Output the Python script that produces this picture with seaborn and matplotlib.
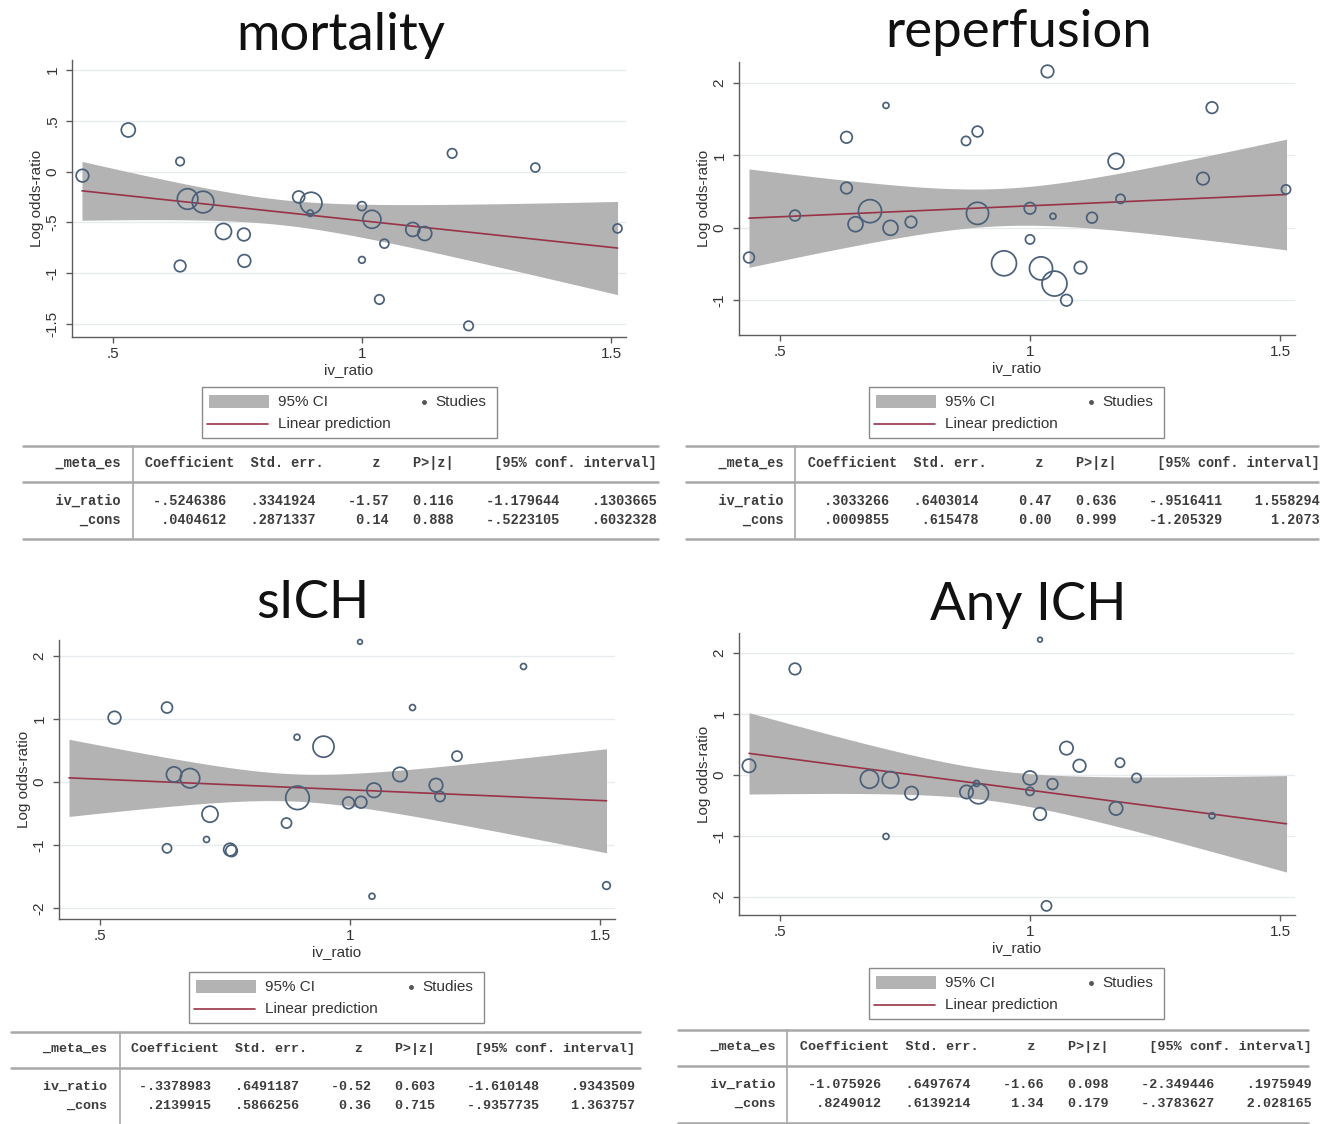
import numpy as np
import pandas as pd
import matplotlib
matplotlib.use("Agg")
import matplotlib.pyplot as plt
import seaborn as sns
from matplotlib.patches import Rectangle
from matplotlib.lines import Line2D

# ---------------------------------------------------------------- data
# study-level log odds-ratios against iv_ratio, bubble weight ~ study weight
mort_x = [0.439, 0.531, 0.635, 0.635, 0.650, 0.681, 0.722, 0.763, 0.764, 0.873, 0.898, 0.896,
          1.000, 1.000, 1.020, 1.045, 1.035, 1.102, 1.126, 1.181, 1.214, 1.348, 1.513]
mort_y = [-0.04, 0.41, 0.10, -0.93, -0.27, -0.30, -0.59, -0.62, -0.88, -0.25, -0.31, -0.41,
          -0.34, -0.87, -0.47, -0.71, -1.26, -0.57, -0.61, 0.18, -1.52, 0.04, -0.56]
mort_w = [3.6, 4.4, 1.6, 3.0, 9.5, 10.5, 5.8, 3.6, 3.6, 3.2, 10.5, 0.9,
          1.8, 1.0, 7.3, 1.8, 2.0, 4.4, 4.4, 2.0, 2.0, 1.8, 1.8]

rep_x = [0.438, 0.530, 0.633, 0.633, 0.651, 0.680, 0.712, 0.721, 0.762, 0.872, 0.895, 0.895,
         1.000, 1.000, 0.948, 1.022, 1.049, 1.046, 1.035, 1.073, 1.101, 1.124, 1.172, 1.181,
         1.346, 1.364, 1.512]
rep_y = [-0.41, 0.17, 1.25, 0.55, 0.05, 0.23, 1.69, 0.00, 0.08, 1.20, 1.33, 0.20,
         0.27, -0.16, -0.49, -0.56, -0.77, 0.16, 2.16, -1.00, -0.55, 0.14, 0.92, 0.40,
         0.68, 1.66, 0.53]
rep_w = [2.6, 2.6, 3.0, 3.0, 5.0, 12.0, 0.8, 5.0, 3.0, 1.9, 2.6, 11.0,
         3.0, 1.9, 14.0, 12.0, 14.0, 0.8, 3.5, 3.0, 3.5, 2.6, 5.6, 1.9,
         3.5, 3.0, 1.9]

sich_x = [0.529, 0.634, 0.634, 0.648, 0.680, 0.713, 0.720, 0.760, 0.763, 0.873, 0.894, 0.895,
          0.947, 0.997, 1.022, 1.020, 1.044, 1.048, 1.100, 1.125, 1.172, 1.180, 1.214, 1.347,
          1.513]
sich_y = [1.02, 1.18, -1.05, 0.12, 0.06, -0.91, -0.51, -1.07, -1.09, -0.65, 0.71, -0.25,
          0.56, -0.33, -0.32, 2.22, -1.81, -0.13, 0.12, 1.18, -0.05, -0.23, 0.41, 1.83,
          -1.64]
sich_w = [3.6, 2.7, 1.9, 5.2, 8.5, 0.8, 5.8, 3.6, 3.0, 2.3, 0.8, 12.5,
          10.0, 3.1, 3.1, 0.5, 0.8, 4.7, 4.7, 0.8, 4.1, 2.3, 2.3, 0.8,
          1.3]

any_x = [0.438, 0.530, 0.679, 0.712, 0.721, 0.763, 0.873, 0.893, 0.897, 1.000, 1.000, 1.020,
         1.020, 1.033, 1.045, 1.073, 1.099, 1.172, 1.180, 1.213, 1.364]
any_y = [0.15, 1.74, -0.07, -1.01, -0.08, -0.30, -0.28, -0.14, -0.31, -0.05, -0.27, 2.22,
         -0.64, -2.15, -0.15, 0.44, 0.15, -0.55, 0.20, -0.05, -0.67]
any_w = [4.0, 3.0, 7.5, 0.8, 6.2, 4.0, 4.0, 0.8, 9.0, 4.4, 1.5, 0.5,
         3.6, 2.3, 2.6, 4.0, 3.6, 4.0, 1.9, 1.9, 0.8]

# meta-regression output: iv_ratio row, then _cons row
mort_coef = ["-.5246386", ".0404612"]
mort_se = [".3341924", ".2871337"]
mort_z = ["-1.57", "0.14"]
mort_p = ["0.116", "0.888"]
mort_lo = ["-1.179644", "-.5223105"]
mort_hi = [".1303665", ".6032328"]
mort_cov = -0.0936

rep_coef = [".3033266", ".0009855"]
rep_se = [".6403014", ".615478"]
rep_z = ["0.47", "0.00"]
rep_p = ["0.636", "0.999"]
rep_lo = ["-.9516411", "-1.205329"]
rep_hi = ["1.558294", "1.2073"]
rep_cov = -0.385

sich_coef = ["-.3378983", ".2139915"]
sich_se = [".6491187", ".5866256"]
sich_z = ["-0.52", "0.36"]
sich_p = ["0.603", "0.715"]
sich_lo = ["-1.610148", "-.9357735"]
sich_hi = [".9343509", "1.363757"]
sich_cov = -0.374

any_coef = ["-1.075926", ".8249012"]
any_se = [".6497674", ".6139214"]
any_z = ["-1.66", "1.34"]
any_p = ["0.098", "0.179"]
any_lo = ["-2.349446", "-.3783627"]
any_hi = [".1975949", "2.028165"]
any_cov = -0.39

titles = ["mortality", "reperfusion", "sICH", "Any ICH"]
row_names = ["iv_ratio", "_cons"]
xticks = [0.5, 1.0, 1.5]
xticklabels = [".5", "1", "1.5"]
mort_yticks = [-1.5, -1.0, -0.5, 0.0, 0.5, 1.0]
mort_yticklabels = ["-1.5", "-1", "-.5", "0", ".5", "1"]
rep_yticks = [-1, 0, 1, 2]
rep_yticklabels = ["-1", "0", "1", "2"]
ich_yticks = [-2, -1, 0, 1, 2]
ich_yticklabels = ["-2", "-1", "0", "1", "2"]

# ---------------------------------------------------------------- style
sns.set_theme(style="white")
plt.rcParams["font.family"] = ["Liberation Sans", "DejaVu Sans"]

W, H = 1325, 1124
BAND = "#b3b3b3"
LINE = "#9a3347"
RING = "#4a6079"
AXC = "#5c5c5c"
TXT = "#333333"
RULE = "#a8a8a8"
SIZE_PER_W = 23.0

# prediction is drawn over the full observed iv_ratio range
all_x = mort_x + rep_x + sich_x + any_x
x_lo, x_hi = min(all_x), max(all_x)

fig = plt.figure(figsize=(W / 100, H / 100), dpi=100)
fig.patch.set_facecolor("white")


def box(l, t, r, b):
    return [l / W, 1 - b / H, (r - l) / W, (b - t) / H]


def fx(px):
    return px / W


def fy(py):
    return 1 - py / H


panels = [
    dict(title=titles[0], x=mort_x, y=mort_y, w=mort_w, coef=mort_coef, se=mort_se, z=mort_z,
         p=mort_p, lo=mort_lo, hi=mort_hi, cov=mort_cov, yt=mort_yticks, ytl=mort_yticklabels,
         ax=(72, 60, 626, 337), ylim=(-1.63, 1.10), title_xy=(341, 50),
         leg=(202, 387), tab=(23, 658, 446)),
    dict(title=titles[1], x=rep_x, y=rep_y, w=rep_w, coef=rep_coef, se=rep_se, z=rep_z,
         p=rep_p, lo=rep_lo, hi=rep_hi, cov=rep_cov, yt=rep_yticks, ytl=rep_yticklabels,
         ax=(739, 62, 1295, 335), ylim=(-1.48, 2.29), title_xy=(1019, 47),
         leg=(869, 387), tab=(686, 1318, 446)),
    dict(title=titles[2], x=sich_x, y=sich_y, w=sich_w, coef=sich_coef, se=sich_se, z=sich_z,
         p=sich_p, lo=sich_lo, hi=sich_hi, cov=sich_cov, yt=ich_yticks, ytl=ich_yticklabels,
         ax=(59, 640, 615, 919), ylim=(-2.17, 2.25), title_xy=(313, 618),
         leg=(189, 972), tab=(11, 640, 1032)),
    dict(title=titles[3], x=any_x, y=any_y, w=any_w, coef=any_coef, se=any_se, z=any_z,
         p=any_p, lo=any_lo, hi=any_hi, cov=any_cov, yt=ich_yticks, ytl=ich_yticklabels,
         ax=(739, 633, 1295, 915), ylim=(-2.30, 2.33), title_xy=(1028, 620),
         leg=(869, 968), tab=(678, 1308, 1030)),
]

for pnl in panels:
    ax = fig.add_axes(box(*pnl["ax"]))
    ax.set_facecolor("white")

    slope, cons = float(pnl["coef"][0]), float(pnl["coef"][1])
    se_b, se_a = float(pnl["se"][0]), float(pnl["se"][1])
    xs = np.linspace(x_lo, x_hi, 200)
    pred = cons + slope * xs
    se_fit = np.sqrt(se_a ** 2 + xs ** 2 * se_b ** 2 + 2 * xs * pnl["cov"])

    # 95% CI band and linear prediction
    ax.fill_between(xs, pred - 1.96 * se_fit, pred + 1.96 * se_fit, color=BAND, lw=0, zorder=1)
    sns.lineplot(x=xs, y=pred, color=LINE, lw=1.2, ax=ax, zorder=3, estimator=None, sort=False)

    # studies as weighted bubbles
    df = pd.DataFrame({"iv_ratio": pnl["x"], "log_or": pnl["y"], "weight": pnl["w"]})
    sns.scatterplot(data=df, x="iv_ratio", y="log_or", size="weight",
                    sizes=(0, 15 * SIZE_PER_W), size_norm=(0, 15), legend=False,
                    facecolor="none", edgecolor=RING, linewidth=1.25, ax=ax, zorder=4,
                    clip_on=False)
    ax.collections[-1].set_facecolor("none")
    ax.collections[-1].set_edgecolor(RING)

    ax.set_xlim(0.418, 1.53)
    ax.set_ylim(*pnl["ylim"])
    ax.set_xticks(xticks)
    ax.set_xticklabels(xticklabels)
    ax.set_yticks(pnl["yt"])
    ax.set_yticklabels(pnl["ytl"], rotation=90, va="center")
    ax.grid(axis="y", color="#e7ebef", lw=1.0)
    ax.grid(axis="x", visible=False)
    ax.set_axisbelow(True)
    for s in ("top", "right"):
        ax.spines[s].set_visible(False)
    for s in ("left", "bottom"):
        ax.spines[s].set_color(AXC)
        ax.spines[s].set_linewidth(1.0)
    ax.tick_params(axis="both", direction="out", length=4, width=1, color=AXC,
                   labelsize=11, labelcolor=TXT, left=True, bottom=True)
    ax.tick_params(axis="y", pad=5)
    ax.set_xlabel("iv_ratio", fontsize=11, color=TXT, labelpad=1)
    ax.set_ylabel("Log odds-ratio", fontsize=11, color=TXT, labelpad=1)

    # panel title
    tx, ty = pnl["title_xy"]
    fig.text(fx(tx), fy(ty), pnl["title"], fontsize=38, family=["Lato", "DejaVu Sans"],
             ha="center", va="baseline", color="#111111")

    # legend box
    lx, ly = pnl["leg"]
    fig.patches.append(Rectangle((fx(lx), fy(ly + 51)), 295 / W, 51 / H, transform=fig.transFigure,
                                 fill=False, edgecolor="#8a8a8a", lw=1.0))
    fig.patches.append(Rectangle((fx(lx + 7), fy(ly + 21)), 60 / W, 13 / H, transform=fig.transFigure,
                                 facecolor=BAND, edgecolor="none"))
    fig.lines.append(Line2D([fx(lx + 5), fx(lx + 66)], [fy(ly + 37), fy(ly + 37)],
                            transform=fig.transFigure, color=LINE, lw=1.2))
    fig.lines.append(Line2D([fx(lx + 222)], [fy(ly + 15)], transform=fig.transFigure,
                            marker="o", markersize=2.5, color="#555555", lw=0))
    fig.text(fx(lx + 76), fy(ly + 15), "95% CI", fontsize=11, color=TXT, va="center")
    fig.text(fx(lx + 233), fy(ly + 15), "Studies", fontsize=11, color=TXT, va="center")
    fig.text(fx(lx + 76), fy(ly + 37), "Linear prediction", fontsize=11, color=TXT, va="center")

    # regression table
    x0, x1, yt = pnl["tab"]
    cw = (x1 - x0) / 78.0
    fs = cw / 0.6 * 0.72
    y_hdr, y_mid, y_r1, y_r2, y_bot = yt + 17, yt + 36, yt + 55, yt + 74, yt + 93
    header = "    _meta_es   Coefficient  Std. err.      z    P>|z|     [95% conf. interval]"
    rows = [header]
    for i, nm in enumerate(row_names):
        rows.append(f"{nm:>12}  {pnl['coef'][i]:>11}{pnl['se'][i]:>11}{pnl['z'][i]:>9}"
                    f"{pnl['p'][i]:>8}{pnl['lo'][i]:>13}{pnl['hi'][i]:>12}")
    for txt, yy in zip(rows, (y_hdr, y_r1, y_r2)):
        fig.text(fx(x0), fy(yy), txt, family=["Liberation Mono", "DejaVu Sans Mono"],
                 fontsize=fs, fontweight="bold", color="#3c3c3c", va="center", ha="left")
    for yy in (yt, y_mid, y_bot):
        fig.lines.append(Line2D([fx(x0), fx(x1)], [fy(yy), fy(yy)], transform=fig.transFigure,
                                color=RULE, lw=1.8))
    xv = x0 + 13.5 * cw
    fig.lines.append(Line2D([fx(xv), fx(xv)], [fy(yt), fy(y_bot)], transform=fig.transFigure,
                            color=RULE, lw=1.2))

fig.savefig("out.png", dpi=100, facecolor="white")
